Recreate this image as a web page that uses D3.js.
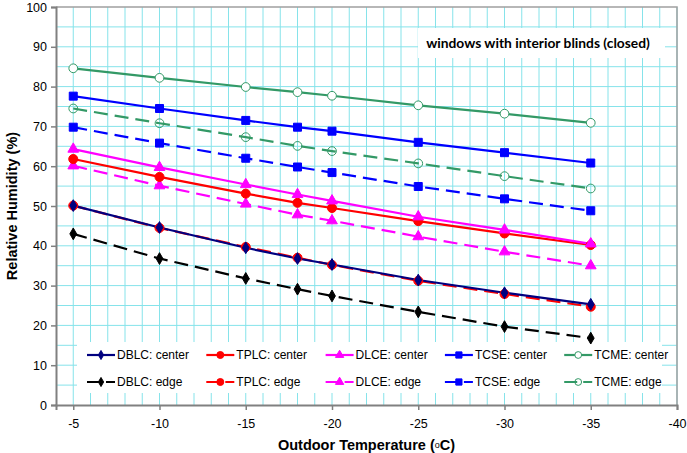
<!DOCTYPE html>
<html>
<head>
<meta charset="utf-8">
<script src="https://cdn.jsdelivr.net/npm/d3@7"></script>
<style>
  body { margin: 0; background: #fff; }
  svg text { font-family: "Liberation Sans", Arial, sans-serif; }
</style>
</head>
<body>
<div id="drawer"></div>
<script>
// outdoor temperatures (x values) and tick labels
var temps = [-5, -10, -15, -18, -20, -25, -30, -35];
var xTicks = [-5, -10, -15, -20, -25, -30, -35, -40];
var yTicks = [0, 10, 20, 30, 40, 50, 60, 70, 80, 90, 100];

// relative humidity (%)
var dblcCenter = [50.1, 44.6, 39.5, 36.8, 35.3, 31.4, 28.2, 25.3];
var tplcCenter = [61.8, 57.3, 53.1, 50.8, 49.5, 46.2, 43.1, 40.2];
var dlceCenter = [64.3, 59.7, 55.4, 52.9, 51.3, 47.3, 44.0, 40.5];
var tcseCenter = [77.6, 74.5, 71.5, 69.8, 68.8, 66.0, 63.4, 60.8];
var tcmeCenter = [84.6, 82.2, 79.9, 78.6, 77.7, 75.3, 73.2, 70.9];
var dblcEdge = [43.0, 36.8, 31.8, 29.1, 27.4, 23.4, 19.7, 16.8];
var tplcEdge = [50.1, 44.5, 39.7, 37.0, 35.2, 31.2, 27.9, 24.7];
var dlceEdge = [60.1, 55.1, 50.5, 47.8, 46.3, 42.3, 38.5, 35.0];
var tcseEdge = [69.8, 65.8, 62.0, 59.8, 58.4, 54.9, 51.8, 48.8];
var tcmeEdge = [74.5, 70.8, 67.3, 65.1, 63.8, 60.7, 57.5, 54.4];

var labels = ["DBLC: center", "TPLC: center", "DLCE: center", "TCSE: center", "TCME: center",
              "DBLC: edge", "TPLC: edge", "DLCE: edge", "TCSE: edge", "TCME: edge"];

var palette = {
  navy: "#000080",
  black: "#000000",
  red: "#ff0000",
  magenta: "#ff00ff",
  blue: "#0000ff",
  green: "#339966",
  grid: "#86e3ea",
  axis: "#808080"
};

var dash = "14,7";

var series = [
  {name: labels[0], values: dblcCenter, color: palette.navy, symbol: d3.symbolDiamond, size: 40, dashed: false, fill: palette.navy},
  {name: labels[1], values: tplcCenter, color: palette.red, symbol: d3.symbolCircle, size: 64, dashed: false, fill: palette.red},
  {name: labels[2], values: dlceCenter, color: palette.magenta, symbol: d3.symbolTriangle, size: 50, dashed: false, fill: palette.magenta},
  {name: labels[3], values: tcseCenter, color: palette.blue, symbol: d3.symbolSquare, size: 64, dashed: false, fill: palette.blue},
  {name: labels[4], values: tcmeCenter, color: palette.green, symbol: d3.symbolCircle, size: 60, dashed: false, fill: "#fff"},
  {name: labels[5], values: dblcEdge, color: palette.black, symbol: d3.symbolDiamond, size: 40, dashed: true, fill: palette.black},
  {name: labels[6], values: tplcEdge, color: palette.red, symbol: d3.symbolCircle, size: 64, dashed: true, fill: palette.red},
  {name: labels[7], values: dlceEdge, color: palette.magenta, symbol: d3.symbolTriangle, size: 50, dashed: true, fill: palette.magenta},
  {name: labels[8], values: tcseEdge, color: palette.blue, symbol: d3.symbolSquare, size: 64, dashed: true, fill: palette.blue},
  {name: labels[9], values: tcmeEdge, color: palette.green, symbol: d3.symbolCircle, size: 60, dashed: true, fill: "none"}
];

var w = 687, h = 453;
var margin = {top: 7, right: 10, bottom: 48, left: 56};

var svg = d3.select("#drawer").append("svg")
    .attr("width", w)
    .attr("height", h);

var x = d3.scaleLinear().domain([-4, -40]).range([margin.left, w - margin.right]);
var y = d3.scaleLinear().domain([0, 100]).range([h - margin.bottom, margin.top]);

// grid: every degree vertically, every 5 % horizontally
svg.append("g").selectAll("line")
    .data(d3.range(-5, -41, -1))
    .enter().append("line")
    .attr("x1", function(d) { return x(d); })
    .attr("x2", function(d) { return x(d); })
    .attr("y1", y(0))
    .attr("y2", y(100))
    .style("stroke", palette.grid)
    .style("stroke-width", 1);

svg.append("g").selectAll("line")
    .data(d3.range(5, 100, 5))
    .enter().append("line")
    .attr("x1", x(-4))
    .attr("x2", x(-40))
    .attr("y1", function(d) { return y(d); })
    .attr("y2", function(d) { return y(d); })
    .style("stroke", palette.grid)
    .style("stroke-width", 1);

// title box
svg.append("rect")
    .attr("x", 418).attr("y", 28)
    .attr("width", 247).attr("height", 30)
    .style("fill", "#fff");
svg.append("text")
    .attr("x", 538).attr("y", 48)
    .attr("text-anchor", "middle")
    .style("font-family", "Lato, 'Open Sans', sans-serif")
    .style("font-weight", "bold")
    .style("font-size", "13.8px")
    .text("windows with interior blinds (closed)");

// legend background
svg.append("rect")
    .attr("x", 77).attr("y", 342)
    .attr("width", 585).attr("height", 51)
    .style("fill", "#fff");

// plot border (top/right)
svg.append("path")
    .attr("d", "M" + x(-4) + "," + y(100) + "H" + x(-40) + "V" + y(0))
    .style("fill", "none")
    .style("stroke", "#a0a0a0")
    .style("stroke-width", 1.5);

// axes (plain hyphen minus like the original)
var fmt = function(d) { return String(d); };
var xAxis = svg.append("g")
    .attr("transform", "translate(0," + y(0) + ")")
    .call(d3.axisBottom(x).tickValues(xTicks).tickFormat(fmt).tickSize(5).tickPadding(9));
var yAxis = svg.append("g")
    .attr("transform", "translate(" + x(-4) + ",0)")
    .call(d3.axisLeft(y).tickValues(yTicks).tickFormat(fmt).tickSize(5).tickPadding(4));

[xAxis, yAxis].forEach(function(a) {
  a.select(".domain").style("stroke", palette.axis).style("stroke-width", 2);
  a.selectAll(".tick line").style("stroke", palette.axis).style("stroke-width", 1.5);
  a.selectAll(".tick text")
    .style("font-family", "'Liberation Sans', Arial, sans-serif")
    .style("font-size", "12.5px")
    .style("fill", "#000");
});

// axis titles
svg.append("text")
    .attr("transform", "translate(17," + ((y(0) + y(100)) / 2) + ") rotate(-90)")
    .attr("text-anchor", "middle")
    .style("font-weight", "bold")
    .style("font-size", "14.5px")
    .text("Relative Humidity (%)");

var xt = svg.append("text")
    .attr("x", (x(-4) + x(-40)) / 2)
    .attr("y", 450)
    .attr("text-anchor", "middle")
    .style("font-weight", "bold")
    .style("font-size", "14.5px");
xt.append("tspan").text("Outdoor Temperature (");
xt.append("tspan").style("font-size", "9px").style("font-weight", "normal").attr("dy", -2).text("o");
xt.append("tspan").attr("dy", 2).text("C)");

// lines
var line = d3.line()
    .x(function(d) { return x(d.t); })
    .y(function(d) { return y(d.v); });

function points(s) {
  return temps.map(function(t, i) { return {t: t, v: s.values[i]}; });
}

var drawOrder = series.slice(5).concat(series.slice(0, 5));

svg.append("g").selectAll("path")
    .data(drawOrder)
    .enter().append("path")
    .attr("d", function(s) { return line(points(s)); })
    .style("fill", "none")
    .style("stroke", function(s) { return s.color; })
    .style("stroke-width", 2.2)
    .style("stroke-dasharray", function(s) { return s.dashed ? dash : null; });

// markers
drawOrder.forEach(function(s) {
  svg.append("g").selectAll("path")
    .data(points(s))
    .enter().append("path")
    .attr("transform", function(d) { return "translate(" + x(d.t) + "," + y(d.v) + ")"; })
    .attr("d", d3.symbol().type(s.symbol).size(s.size))
    .style("fill", s.fill)
    .style("stroke", s.color)
    .style("stroke-width", 1);
});

// legend
var legend = svg.append("g").selectAll("g")
    .data(series)
    .enter().append("g")
    .attr("transform", function(s, i) {
      return "translate(" + (87 + (i % 5) * 119.3) + "," + (i < 5 ? 355 : 382) + ")";
    });

legend.append("line")
    .attr("x1", 0).attr("x2", 28)
    .style("stroke", function(s) { return s.color; })
    .style("stroke-width", 2.2)
    .style("stroke-dasharray", function(s) { return s.dashed ? "13,6" : null; });

legend.append("path")
    .attr("transform", "translate(14,0)")
    .attr("d", function(s) { return d3.symbol().type(s.symbol).size(s.size * 0.6)(); })
    .style("fill", function(s) { return s.fill; })
    .style("stroke", function(s) { return s.color; })
    .style("stroke-width", 1);

legend.append("text")
    .attr("x", 30)
    .attr("dy", "0.35em")
    .style("font-size", "12px")
    .text(function(s) { return s.name; });
</script>
</body>
</html>
